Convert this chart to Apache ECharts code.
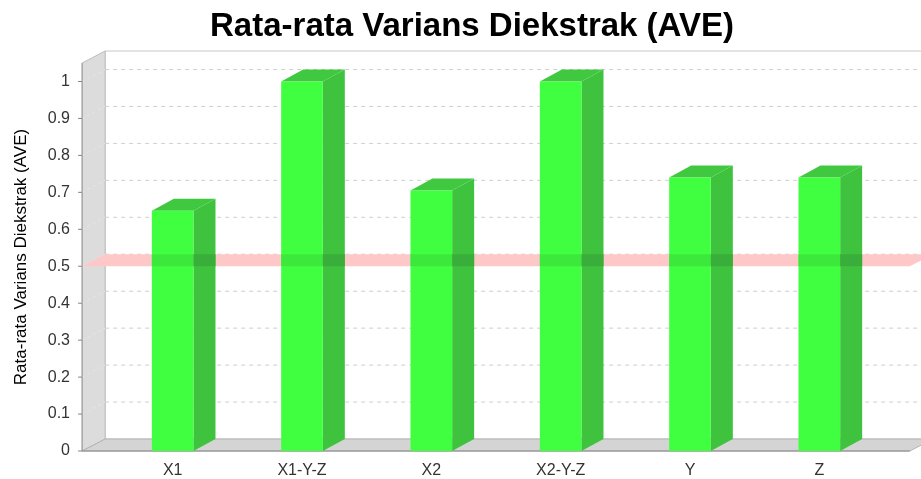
<!DOCTYPE html>
<html>
<head>
<meta charset="utf-8">
<script src="https://cdn.jsdelivr.net/npm/echarts@6/dist/echarts.min.js"></script>
<style>
html, body { margin: 0; padding: 0; background: #fff; }
#main { width: 921px; height: 479px; }
</style>
</head>
<body>
<div id="main"></div>
<script>
var categories = ['X1', 'X1-Y-Z', 'X2', 'X2-Y-Z', 'Y', 'Z'];
var aveValues = [0.65, 1.0, 0.705, 1.0, 0.74, 0.74];
var yTicks = [0, 0.1, 0.2, 0.3, 0.4, 0.5, 0.6, 0.7, 0.8, 0.9, 1];
var thresholdValue = 0.5;
var yMax = 1.05;

// 3D depth of walls / bars
var DX = 23, DY = 12;
var BAR_DX = 22, BAR_DY = 12;

// front plane edges, taken from the category axis
function plotBox(api) {
    var band = api.size([1, 0])[0];
    var first = api.coord([0, 0]);
    var last = api.coord([categories.length - 1, 0]);
    return {
        band: band,
        x0: first[0] - 0.7 * band,
        x1: last[0] + 0.7 * band,
        y0: first[1],
        yTop: api.coord([0, yMax])[1]
    };
}

function renderFrame(params, api) {
    var b = plotBox(api);
    var kids = [];
    // back wall
    kids.push({
        type: 'rect',
        shape: { x: b.x0 + DX, y: b.yTop - DY, width: b.x1 - b.x0, height: b.y0 - b.yTop },
        style: { fill: '#fff', stroke: '#c8c8c8', lineWidth: 1 }
    });
    // left wall
    kids.push({
        type: 'polygon',
        shape: { points: [[b.x0, b.y0], [b.x0, b.yTop], [b.x0 + DX, b.yTop - DY], [b.x0 + DX, b.y0 - DY]] },
        style: { fill: '#dcdcdc', stroke: '#bdbdbd', lineWidth: 1 }
    });
    // floor
    kids.push({
        type: 'polygon',
        shape: { points: [[b.x0, b.y0], [b.x1, b.y0], [b.x1 + DX, b.y0 - DY], [b.x0 + DX, b.y0 - DY]] },
        style: { fill: '#d4d4d4', stroke: '#b4b4b4', lineWidth: 1 }
    });
    yTicks.forEach(function (v) {
        var y = api.coord([0, v])[1];
        if (v > 0) {
            // gridline on back wall
            kids.push({
                type: 'line',
                shape: { x1: b.x0 + DX, y1: y - DY, x2: b.x1 + DX, y2: y - DY },
                style: { stroke: '#cfcfcf', lineWidth: 1, lineDash: [4, 4] }
            });
            // gridline across the left wall
            kids.push({
                type: 'line',
                shape: { x1: b.x0, y1: y, x2: b.x0 + DX, y2: y - DY },
                style: { stroke: '#e6e6e6', lineWidth: 1, lineDash: [3, 3] }
            });
        }
        // tick mark
        kids.push({
            type: 'line',
            shape: { x1: b.x0 - 4, y1: y, x2: b.x0, y2: y },
            style: { stroke: '#808080', lineWidth: 1 }
        });
    });
    // axis lines
    kids.push({
        type: 'line',
        shape: { x1: b.x0, y1: b.y0, x2: b.x0, y2: b.yTop },
        style: { stroke: '#9a9a9a', lineWidth: 1 }
    });
    kids.push({
        type: 'line',
        shape: { x1: b.x0, y1: b.y0, x2: b.x1, y2: b.y0 },
        style: { stroke: '#8a8a8a', lineWidth: 1 }
    });
    return { type: 'group', children: kids };
}

function renderThreshold(params, api) {
    var b = plotBox(api);
    var y = api.coord([0, api.value(1)])[1];
    return {
        type: 'polygon',
        shape: { points: [[b.x0, y], [b.x1, y], [b.x1 + DX, y - DY], [b.x0 + DX, y - DY]] },
        style: { fill: '#ffc8c8' }
    };
}

function renderBar(params, api) {
    var band = api.size([1, 0])[0];
    var half = 0.161 * band;
    var top = api.coord([api.value(0), api.value(1)]);
    var base = api.coord([api.value(0), 0]);
    var l = top[0] - half, r = top[0] + half;
    var yt = top[1], yb = base[1];
    var kids = [
        {
            type: 'polygon',
            shape: { points: [[r, yt], [r + BAR_DX, yt - BAR_DY], [r + BAR_DX, yb - BAR_DY], [r, yb]] },
            style: { fill: '#3fc33f' }
        },
        {
            type: 'polygon',
            shape: { points: [[l, yt], [l + BAR_DX, yt - BAR_DY], [r + BAR_DX, yt - BAR_DY], [r, yt]] },
            style: { fill: '#40c840' }
        },
        {
            type: 'rect',
            shape: { x: l, y: yt, width: r - l, height: yb - yt },
            style: { fill: '#40ff40' }
        }
    ];
    // the threshold plane shows through the bar a little
    if (api.value(1) > thresholdValue) {
        var yth = api.coord([0, thresholdValue])[1];
        kids.push({
            type: 'rect',
            shape: { x: l, y: yth - DY, width: r - l, height: DY },
            style: { fill: '#3de83d' }
        });
        kids.push({
            type: 'rect',
            shape: { x: r, y: yth - DY, width: BAR_DX, height: DY },
            style: { fill: '#3aae3a' }
        });
    }
    return { type: 'group', children: kids };
}

var option = {
    backgroundColor: '#fff',
    animation: false,
    title: {
        text: 'Rata-rata Varians Diekstrak (AVE)',
        left: 467,
        top: 5,
        textAlign: 'center',
        textStyle: {
            fontFamily: 'Liberation Sans',
            fontWeight: 'bold',
            fontSize: 33,
            color: '#000'
        }
    },
    grid: {
        left: 108,
        right: 37,
        top: 63,
        bottom: 23
    },
    xAxis: {
        type: 'category',
        data: categories,
        axisLine: { show: false },
        axisTick: { show: false },
        axisLabel: {
            margin: 12,
            fontFamily: 'Liberation Sans',
            fontSize: 16,
            color: '#333'
        },
        splitLine: { show: false }
    },
    yAxis: {
        type: 'value',
        min: 0,
        max: yMax,
        interval: 0.1,
        offset: 26,
        name: 'Rata-rata Varians Diekstrak (AVE)',
        nameLocation: 'middle',
        nameGap: 52,
        nameTextStyle: {
            fontFamily: 'Liberation Sans',
            fontSize: 17,
            color: '#000'
        },
        axisLine: { show: false },
        axisTick: { show: false },
        splitLine: { show: false },
        axisLabel: {
            margin: 12,
            showMaxLabel: false,
            fontFamily: 'Liberation Sans',
            fontSize: 16,
            color: '#333',
            formatter: function (v) {
                var t = Math.round(v * 10) / 10;
                return Math.abs(v - t) < 1e-6 && yTicks.indexOf(t) >= 0 ? String(t) : '';
            }
        }
    },
    series: [
        {
            name: 'frame',
            type: 'custom',
            z: 1,
            silent: true,
            renderItem: renderFrame,
            data: [[0, 0]]
        },
        {
            name: 'threshold',
            type: 'custom',
            z: 2,
            silent: true,
            renderItem: renderThreshold,
            data: [[0, thresholdValue]]
        },
        {
            name: 'AVE',
            type: 'custom',
            z: 3,
            renderItem: renderBar,
            encode: { x: 0, y: 1 },
            data: aveValues.map(function (v, i) { return [i, v]; })
        }
    ]
};

var myChart = echarts.init(document.getElementById('main'));
myChart.setOption(option);
</script>
</body>
</html>
